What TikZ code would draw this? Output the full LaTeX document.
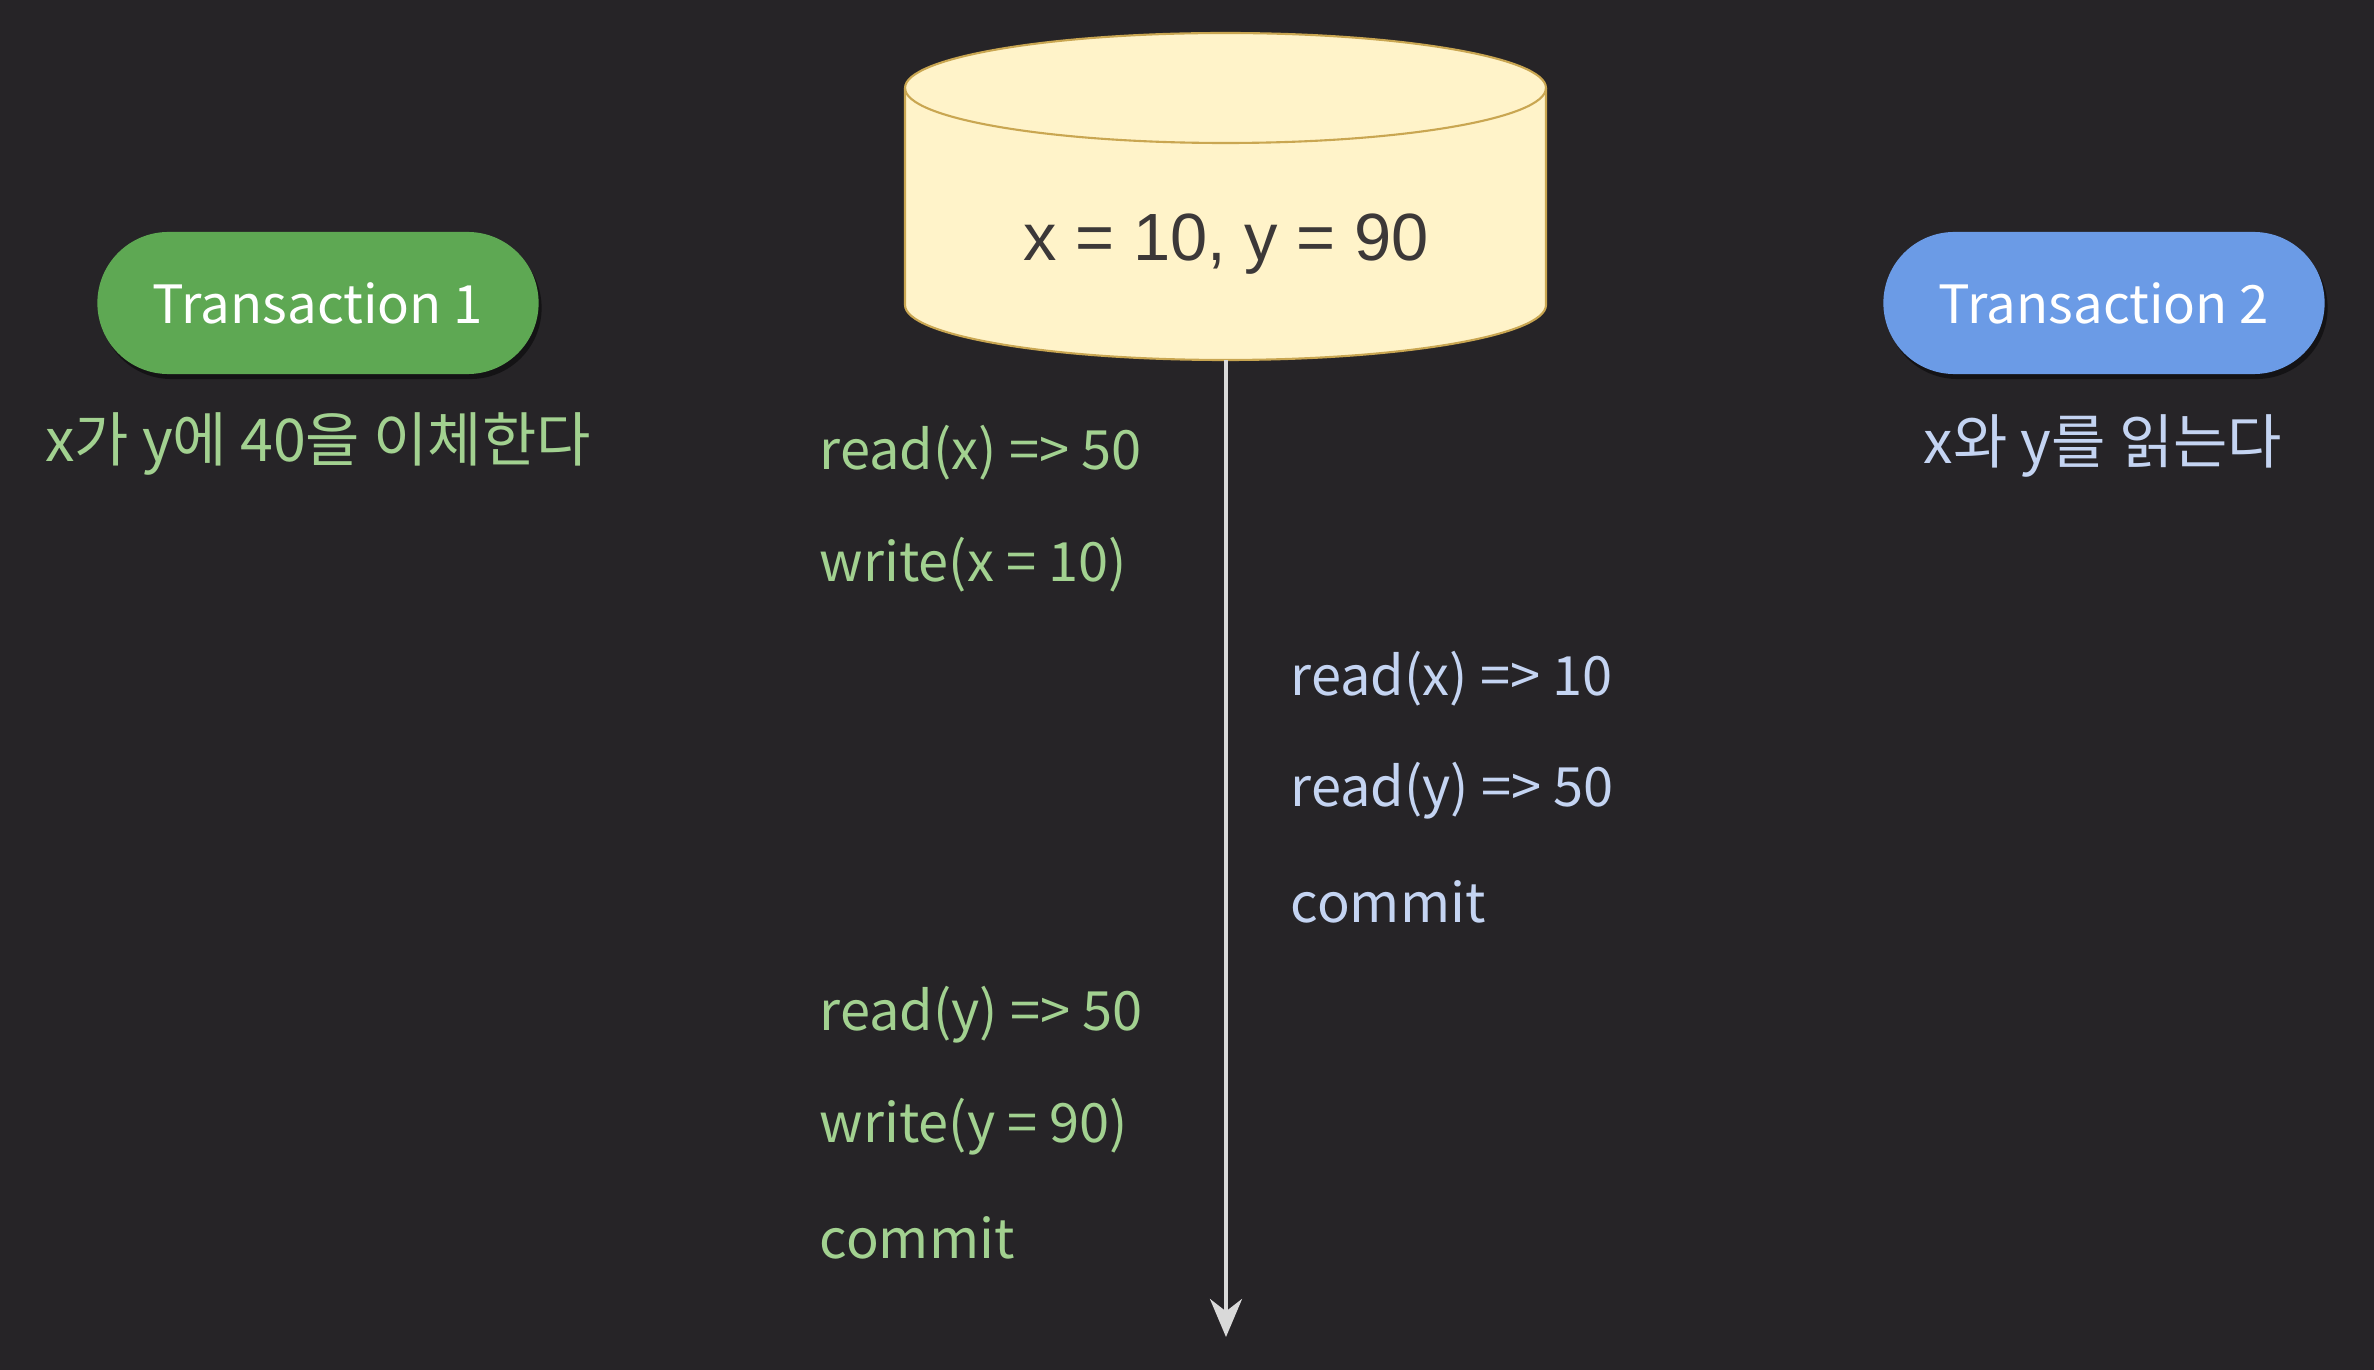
\documentclass[tikz,border=0pt]{standalone}
\usepackage{fontspec}
\setmainfont{Noto Sans CJK KR}
\newfontfamily\dbfont{Liberation Sans}
\usetikzlibrary{arrows.meta,shadows}
\definecolor{bgc}{HTML}{262427}
\definecolor{tgreen}{HTML}{5EA853}
\definecolor{tblue}{HTML}{6B9BE6}
\definecolor{lgreen}{HTML}{A2D190}
\definecolor{lblue}{HTML}{C4D4F2}
\definecolor{dbfill}{HTML}{FFF3C9}
\definecolor{dbedge}{HTML}{C9A651}
\definecolor{dbtext}{HTML}{3C3838}
\definecolor{axis}{HTML}{D9D9D9}
\tikzset{
  pill/.style={rounded corners=0.71cm, minimum width=4.41cm, minimum height=1.42cm,
    text=white, font=\fontsize{15}{18}\selectfont, inner sep=0pt,
    drop shadow={shadow xshift=0.03cm, shadow yshift=-0.05cm, opacity=0.45, fill=black}},
  desc/.style={font=\fontsize{16.8}{20}\selectfont, inner sep=0pt},
  opg/.style={anchor=west, text=lgreen, font=\fontsize{15.4}{18}\selectfont, inner sep=0pt},
  opb/.style={anchor=west, text=lblue, font=\fontsize{15.4}{18}\selectfont, inner sep=0pt},
  timeline/.style={draw=axis, line width=1.1pt, -{Stealth[length=0.38cm, width=0.32cm]}},
}
\begin{document}
\begin{tikzpicture}[x=0.01cm, y=-0.01cm]
\fill[bgc] (0,0) rectangle (2374,1370);
\useasboundingbox (0,0) rectangle (2374,1370);
% database cylinder
\fill[dbfill, draw=dbedge, line width=0.6pt]
  (905,88) -- (905,305) arc[start angle=180, end angle=360, x radius=320.5, y radius=-55]
  -- (1546,88) arc[start angle=0, end angle=180, x radius=320.5, y radius=-55] -- cycle;
\draw[dbedge, line width=0.6pt] (905,88) arc[start angle=180, end angle=360, x radius=320.5, y radius=-55];
\node[text=dbtext, font=\dbfont\fontsize{19}{22}\selectfont, inner sep=0pt] (db) at (1226,244) {x = 10, y = 90};
\coordinate (dbbot) at (1226,360);
\coordinate (tend) at (1226,1337);
\draw[timeline] (dbbot) -- (tend);
% transactions
\node[pill, fill=tgreen] (t1) at (318,303) {Transaction 1};
\node[pill, fill=tblue] (t2) at (2104,303) {Transaction 2};
\node[desc, text=lgreen] (d1) at (318,444) {x가 y에 40을 이체한다};
\node[desc, text=lblue] (d2) at (2103,446) {x와 y를 읽는다};
% transaction 1 operations
\node[opg] (a1) at (819,453) {read(x) => 50};
\node[opg] (a2) at (819,565) {write(x = 10)};
\node[opg] (a3) at (819,1015) {read(y) => 50};
\node[opg] (a4) at (819,1127) {write(y = 90)};
\node[opg] (a5) at (819,1238) {commit};
% transaction 2 operations
\node[opb] (b1) at (1290,679) {read(x) => 10};
\node[opb] (b2) at (1290,791) {read(y) => 50};
\node[opb] (b3) at (1290,902) {commit};
\end{tikzpicture}
\end{document}
